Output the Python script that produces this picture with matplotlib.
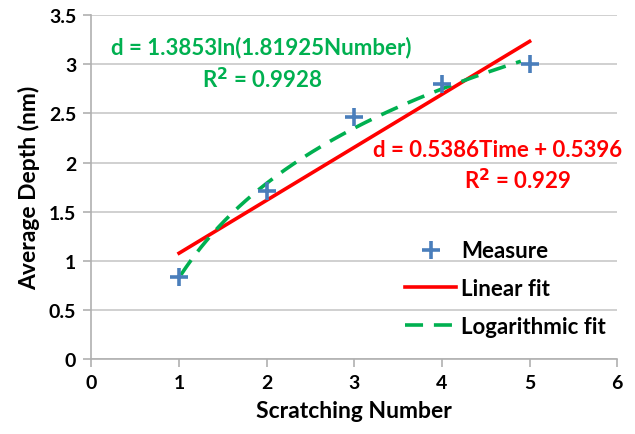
import numpy as np
import matplotlib
matplotlib.use("Agg")
import matplotlib.pyplot as plt

plt.rcParams['font.family'] = ['Lato', 'DejaVu Sans']
plt.rcParams['font.weight'] = 'bold'

# Measured depths per scratch
scratch_number = [1, 2, 3, 4, 5]
avg_depth = [0.84, 1.71, 2.46, 2.80, 3.00]

# Fit coefficients
lin_slope, lin_intercept = 0.5386, 0.5396
log_a, log_b = 1.3853, 1.81925

x_ticks = [0, 1, 2, 3, 4, 5, 6]
y_ticks = [0, 0.5, 1, 1.5, 2, 2.5, 3, 3.5]

BLUE = '#4a7ebb'
RED = '#ff0000'
GREEN = '#00b050'

fig = plt.figure(figsize=(6.35, 4.35), dpi=100)
ax = fig.add_axes([0.144, 0.172, 0.828, 0.791])

ax.set_xlim(0, 6)
ax.set_ylim(0, 3.5)
ax.set_xticks(x_ticks)
ax.set_yticks(y_ticks)
ax.set_xticklabels([f'{v:g}' for v in x_ticks])
ax.set_yticklabels([f'{v:g}' for v in y_ticks])

ax.yaxis.grid(True, color='#c8c8c8', linewidth=1.2)
ax.set_axisbelow(True)
for s in ['top', 'right']:
    ax.spines[s].set_visible(False)
for s in ['left', 'bottom']:
    ax.spines[s].set_color('#b0b0b0')
    ax.spines[s].set_linewidth(1.2)
ax.tick_params(axis='both', colors='#b0b0b0', labelcolor='black',
               labelsize=14, length=6, width=1.2, direction='out')
ax.tick_params(axis='x', pad=5)
ax.tick_params(axis='y', pad=5)

# Linear fit line
xl = np.linspace(min(scratch_number), max(scratch_number), 50)
ax.plot(xl, lin_slope * xl + lin_intercept, color=RED, lw=2.6,
        label='Linear fit', zorder=3)

# Logarithmic fit curve
xg = np.linspace(1.02, 4.9, 200)
ax.plot(xg, log_a * np.log(log_b * xg), color=GREEN, lw=2.6,
        dashes=(5, 3), label='Logarithmic fit', zorder=3)

# Measurements
ax.plot(scratch_number, avg_depth, linestyle='none', marker='+',
        markersize=13, markeredgewidth=2.6, color=BLUE, label='Measure',
        zorder=4)

ax.set_xlabel('Scratching Number', fontsize=16.5, fontweight='bold', labelpad=6)
ax.set_ylabel('Average Depth (nm)', fontsize=16.5, fontweight='bold', labelpad=6)

# Fit equations
ax.text(1.94, 3.18, 'd = 1.3853ln(1.81925Number)', color=GREEN, fontsize=16,
        fontweight='bold', ha='center', va='center')
ax.text(1.95, 2.85, 'R$^\\mathbf{2}$ = 0.9928', color=GREEN, fontsize=16,
        fontweight='bold', ha='center', va='center')
ax.text(4.64, 2.13, 'd = 0.5386Time + 0.5396', color=RED, fontsize=16,
        fontweight='bold', ha='center', va='center')
ax.text(4.87, 1.83, 'R$^\\mathbf{2}$ = 0.929', color=RED, fontsize=16,
        fontweight='bold', ha='center', va='center')

handles, labels = ax.get_legend_handles_labels()
order = [2, 0, 1]
leg = ax.legend([handles[i] for i in order], [labels[i] for i in order],
                loc='upper left', bbox_to_anchor=(0.597, 0.345),
                frameon=False, fontsize=16, handlelength=2.3,
                handletextpad=0.2, labelspacing=0.75,
                borderaxespad=0, borderpad=0)
for t in leg.get_texts():
    t.set_fontweight('bold')

fig.savefig('out.png', dpi=100)
